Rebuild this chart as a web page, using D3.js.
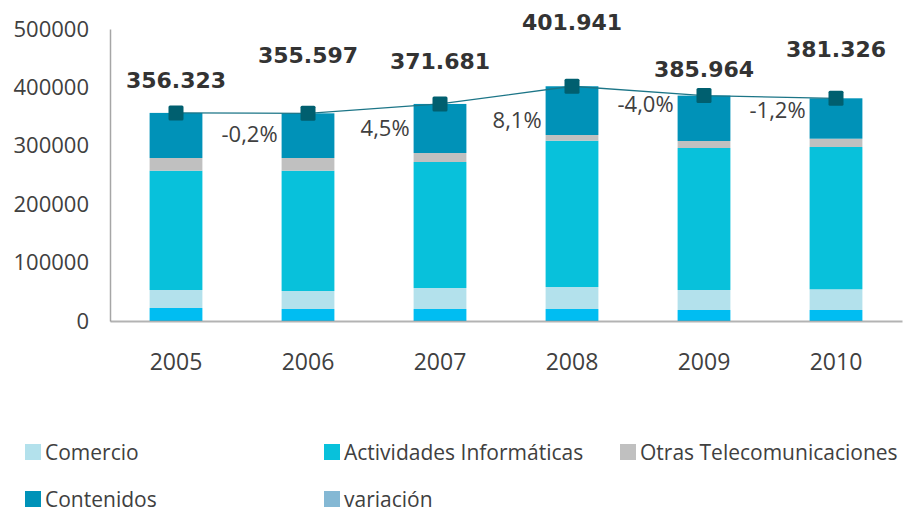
<!DOCTYPE html>
<html>
<head>
    <meta charset="utf-8">
    <title>Sector TIC</title>
    <script src="https://d3js.org/d3.v7.min.js"></script>
    <style>
        body { margin: 0; background: #fff; }
    </style>
</head>
<body>
<div id="chart"></div>
<script type="text/javascript">
// datos
const years = ["2005", "2006", "2007", "2008", "2009", "2010"];
const fabricacion = [22260, 20550, 20550, 20550, 18840, 18840];   // serie inferior, sin leyenda
const comercio = [30820, 30820, 35960, 37670, 34250, 35440];
const informatica = [204280, 205990, 215750, 250510, 243150, 243660];
const otrasTelecom = [21750, 21750, 15410, 9760, 11990, 14210];
const contenidos = [77213, 76487, 84011, 83451, 77734, 69176];
const totales = [356323, 355597, 371681, 401941, 385964, 381326];
const variacion = [null, -0.2, 4.5, 8.1, -4.0, -1.2];
const yTicks = [0, 100000, 200000, 300000, 400000, 500000];

// colocación manual de las etiquetas (como en la hoja original)
const subidaTotal = [25, 50, 35, 56, 19, 41];
const bajadaVar = [0, 29, 32, 42, 16, 20];

const W = 906, H = 511;
const margin = {top: 29, left: 110, right: 4, bottom: 190};

const series = [
    {key: "fab", name: null, color: "#00BDF2", values: fabricacion},
    {key: "com", name: "Comercio", color: "#B3E1EC", values: comercio},
    {key: "inf", name: "Actividades Informáticas", color: "#08C1DB", values: informatica},
    {key: "otr", name: "Otras Telecomunicaciones", color: "#C0C0C0", values: otrasTelecom},
    {key: "con", name: "Contenidos", color: "#0092B8", values: contenidos}
];

const rows = years.map((y, i) => {
    const r = {year: y};
    series.forEach(s => r[s.key] = s.values[i]);
    return r;
});
const stacked = d3.stack().keys(series.map(s => s.key))(rows);

const svg = d3.select("#chart").append("svg")
    .attr("width", W).attr("height", H);

const x = d3.scaleBand().domain(years)
    .range([margin.left, W - margin.right])
    .paddingInner(0.6).paddingOuter(0.3);
const y = d3.scaleLinear().domain([0, 500000])
    .range([H - margin.bottom, margin.top]);

// barras apiladas
svg.append("g").selectAll("g")
    .data(stacked)
    .enter().append("g")
        .attr("fill", (d, i) => series[i].color)
    .selectAll("rect")
    .data(d => d)
    .enter().append("rect")
        .attr("x", d => x(d.data.year))
        .attr("width", x.bandwidth())
        .attr("y", d => y(d[1]))
        .attr("height", d => y(d[0]) - y(d[1]));

// ejes
const yAxis = d3.axisLeft(y).tickValues(yTicks).tickSize(0).tickPadding(21).tickFormat(d3.format("d"));
const gy = svg.append("g").attr("transform", "translate(" + margin.left + ",0)").call(yAxis);
gy.select(".domain").attr("stroke", "#A6A6A6").attr("stroke-width", 1.5);
gy.selectAll("text").attr("font-family", "Open Sans").attr("font-size", "22px").attr("fill", "#404040");

const xAxis = d3.axisBottom(x).tickSize(0).tickPadding(33);
const gx = svg.append("g").attr("transform", "translate(0," + y(0) + ")").call(xAxis);
gx.select(".domain").attr("stroke", "#8a8a8a").attr("stroke-opacity", 0.65).attr("stroke-width", 2);
gx.selectAll("text").attr("font-family", "Open Sans").attr("font-size", "23px").attr("fill", "#404040");

// línea de totales
const line = d3.line()
    .x((d, i) => x(years[i]) + x.bandwidth() / 2)
    .y(d => y(d));
svg.append("path")
    .datum(totales)
    .attr("d", line)
    .attr("fill", "none")
    .attr("stroke", "#1C7587")
    .attr("stroke-width", 1.3);

svg.append("g").selectAll("rect")
    .data(totales)
    .enter().append("rect")
        .attr("x", (d, i) => x(years[i]) + x.bandwidth() / 2 - 7.5)
        .attr("y", d => y(d) - 7.5)
        .attr("width", 15).attr("height", 15)
        .attr("rx", 1.5)
        .attr("fill", "#005F6F");

// etiquetas de totales
const fmt = d3.formatLocale({decimal: ",", thousands: ".", grouping: [3], currency: ["", ""]}).format(",d");
svg.append("g").selectAll("text")
    .data(totales)
    .enter().append("text")
        .attr("x", (d, i) => x(years[i]) + x.bandwidth() / 2)
        .attr("y", (d, i) => y(d) - subidaTotal[i])
        .attr("text-anchor", "middle")
        .attr("font-family", "DejaVu Sans")
        .attr("font-weight", "bold")
        .attr("font-size", "22px")
        .attr("fill", "#333333")
        .text(d => fmt(d));

// etiquetas de variación
const fmtVar = v => d3.format(".1f")(v).replace("−", "-").replace(".", ",") + "%";
svg.append("g").selectAll("text")
    .data(variacion.map((v, i) => ({v: v, i: i})).filter(d => d.v !== null))
    .enter().append("text")
        .attr("x", d => x(years[d.i]) - 4)
        .attr("y", d => y(totales[d.i]) + bajadaVar[d.i])
        .attr("text-anchor", "end")
        .attr("font-family", "Open Sans")
        .attr("font-size", "22px")
        .attr("fill", "#404040")
        .text(d => fmtVar(d.v));

// leyenda
const legendItems = series.filter(s => s.name).map(s => ({name: s.name, color: s.color}));
legendItems.push({name: "variación", color: "#84B8D4"});
const legendPos = [[25, 452], [324, 452], [620, 452], [25, 499], [324, 499]];
const lg = svg.append("g").selectAll("g")
    .data(legendItems)
    .enter().append("g")
        .attr("transform", (d, i) => "translate(" + legendPos[i][0] + "," + legendPos[i][1] + ")");
lg.append("rect")
    .attr("x", 0).attr("y", -8)
    .attr("width", 16).attr("height", 16)
    .attr("fill", d => d.color);
lg.append("text")
    .attr("x", 20).attr("y", 7.5)
    .attr("font-family", "Open Sans")
    .attr("font-size", "21px")
    .attr("fill", "#404040")
    .text(d => d.name);
</script>
</body>
</html>
